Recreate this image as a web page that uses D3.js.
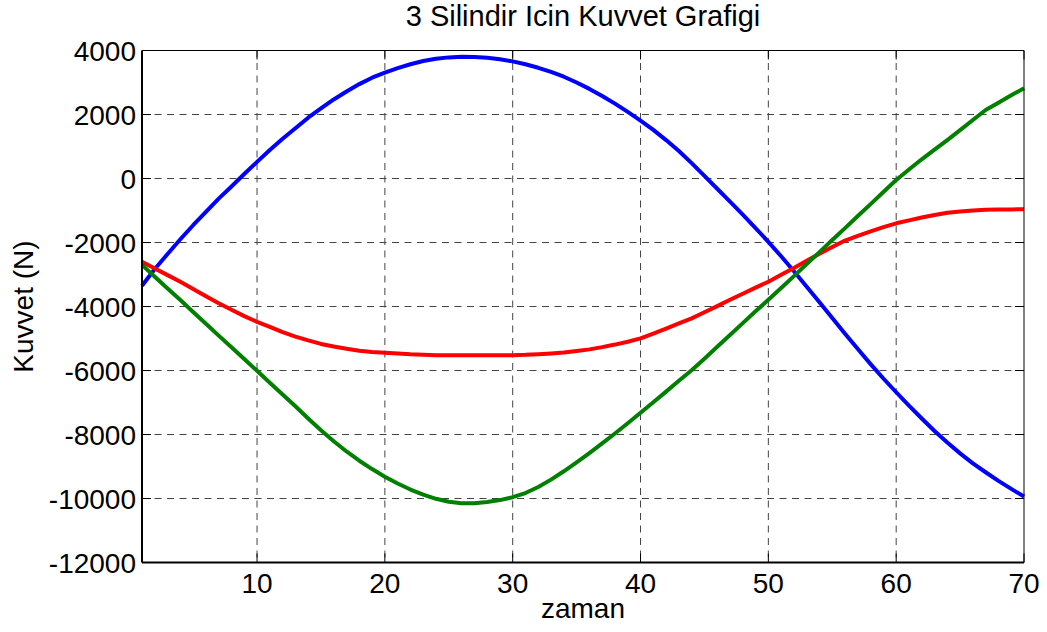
<!DOCTYPE html>
<html>
<head>
<meta charset="utf-8">
<script src="https://cdn.jsdelivr.net/npm/d3@7"></script>
<style>
  body { margin: 0; background: #fff; }
  svg { display: block; font-family: "Liberation Sans", Arial, sans-serif; }
</style>
</head>
<body>
<div id="chart"></div>
<script>
// zaman: 1..70
const zaman = d3.range(1, 71);

// Kuvvet values (N)
const silindir1 = [
  -3350, -2830, -2360, -1900, -1460, -1040, -630, -250, 140, 520,
  890, 1240, 1570, 1900, 2190, 2470, 2720, 2950, 3150, 3310,
  3450, 3570, 3670, 3740, 3785, 3805, 3800, 3775, 3725, 3660,
  3570, 3460, 3330, 3180, 3000, 2800, 2580, 2340, 2080, 1810,
  1520, 1200, 860, 480, 80, -320, -720, -1130, -1550, -1980,
  -2430, -2900, -3380, -3870, -4360, -4850, -5330, -5800, -6250, -6680,
  -7100, -7500, -7890, -8250, -8590, -8900, -9180, -9450, -9700, -9940
];

const silindir2 = [
  -2600, -2810, -3020, -3225, -3450, -3680, -3900, -4100, -4300, -4480,
  -4640, -4800, -4940, -5060, -5170, -5250, -5320, -5380, -5420, -5445,
  -5470, -5495, -5510, -5520, -5525, -5525, -5525, -5525, -5525, -5520,
  -5510, -5490, -5465, -5440, -5390, -5340, -5270, -5190, -5100, -4995,
  -4850, -4690, -4530, -4370, -4180, -3990, -3790, -3600, -3410, -3225,
  -3010, -2800, -2570, -2350, -2140, -1940, -1790, -1650, -1520, -1400,
  -1310, -1220, -1140, -1070, -1030, -1000, -980, -970, -965, -963
];

const silindir3 = [
  -2700, -3070, -3440, -3800, -4170, -4540, -4910, -5270, -5640, -6010,
  -6380, -6750, -7120, -7500, -7870, -8210, -8530, -8820, -9080, -9320,
  -9530, -9720, -9880, -10010, -10100, -10150, -10150, -10110, -10050, -9960,
  -9830, -9640, -9410, -9150, -8870, -8580, -8280, -7970, -7650, -7320,
  -6990, -6660, -6320, -5990, -5630, -5260, -4890, -4520, -4150, -3790,
  -3420, -3050, -2670, -2300, -1920, -1550, -1170, -800, -420, -47,
  280, 600, 900, 1200, 1510, 1830, 2140, 2370, 2600, 2820
];

const xTicks = [10, 20, 30, 40, 50, 60, 70];
const yTicks = [-12000, -10000, -8000, -6000, -4000, -2000, 0, 2000, 4000];

const series = [
  { values: silindir1, color: '#0000ff' },
  { values: silindir2, color: '#ff0000' },
  { values: silindir3, color: '#008000' }
];

const width = 1047;
const height = 632;
const margin = { left: 142, right: 23, top: 50.5, bottom: 69.5 };

const svg = d3.select('#chart')
  .append('svg')
  .attr('width', width)
  .attr('height', height);

const x = d3.scaleLinear()
  .domain([1, 70])
  .range([margin.left, width - margin.right]);

const y = d3.scaleLinear()
  .domain([-12000, 4000])
  .range([height - margin.bottom, margin.top]);

const x0 = x.range()[0], x1 = x.range()[1];
const y0 = y.range()[0], y1 = y.range()[1];

// Grid
const grid = svg.append('g')
  .attr('stroke', '#444')
  .attr('stroke-width', 1)
  .attr('stroke-dasharray', '7,5.5');

grid.selectAll('line.v')
  .data(xTicks.filter(d => d < 70))
  .join('line')
  .attr('class', 'v')
  .attr('x1', d => x(d)).attr('x2', d => x(d))
  .attr('y1', y1).attr('y2', y0);

grid.selectAll('line.h')
  .data(yTicks.filter(d => d > -12000 && d < 4000))
  .join('line')
  .attr('class', 'h')
  .attr('x1', x0).attr('x2', x1)
  .attr('y1', d => y(d)).attr('y2', d => y(d));

// Lines
const line = d3.line()
  .x((d, i) => x(zaman[i]))
  .y(d => y(d));

svg.append('g')
  .selectAll('path')
  .data(series)
  .join('path')
  .attr('fill', 'none')
  .attr('stroke', d => d.color)
  .attr('stroke-width', 4)
  .attr('stroke-linejoin', 'round')
  .attr('d', d => line(d.values));

// Axes (MATLAB style box, ticks inside)
const tickLen = 9;
const axisG = svg.append('g').attr('stroke', '#000');

axisG.append('line')
  .attr('x1', x0).attr('x2', x1).attr('y1', y1).attr('y2', y1)
  .attr('stroke-width', 1);
axisG.append('line')
  .attr('x1', x1).attr('x2', x1).attr('y1', y1).attr('y2', y0)
  .attr('stroke-width', 1);
axisG.append('line')
  .attr('x1', x0).attr('x2', x1).attr('y1', y0).attr('y2', y0)
  .attr('stroke-width', 2);
axisG.append('line')
  .attr('x1', x0).attr('x2', x0).attr('y1', y1).attr('y2', y0)
  .attr('stroke-width', 2);

xTicks.forEach(t => {
  axisG.append('line')
    .attr('x1', x(t)).attr('x2', x(t))
    .attr('y1', y0).attr('y2', y0 - tickLen);
  axisG.append('line')
    .attr('x1', x(t)).attr('x2', x(t))
    .attr('y1', y1).attr('y2', y1 + tickLen);
});
yTicks.forEach(t => {
  axisG.append('line')
    .attr('x1', x0).attr('x2', x0 + tickLen)
    .attr('y1', y(t)).attr('y2', y(t));
  axisG.append('line')
    .attr('x1', x1).attr('x2', x1 - tickLen)
    .attr('y1', y(t)).attr('y2', y(t));
});

// Tick labels
const fs = 28;

svg.append('g')
  .selectAll('text')
  .data(xTicks)
  .join('text')
  .attr('x', d => x(d))
  .attr('y', y0 + 30)
  .attr('text-anchor', 'middle')
  .attr('font-size', fs)
  .text(d => d);

svg.append('g')
  .selectAll('text')
  .data(yTicks)
  .join('text')
  .attr('x', x0 - 6)
  .attr('y', d => y(d))
  .attr('dy', '0.36em')
  .attr('text-anchor', 'end')
  .attr('font-size', fs)
  .text(d => d);

// Titles
svg.append('text')
  .attr('x', (x0 + x1) / 2)
  .attr('y', 26)
  .attr('text-anchor', 'middle')
  .attr('font-size', 29)
  .text('3 Silindir Icin Kuvvet Grafigi');

svg.append('text')
  .attr('x', (x0 + x1) / 2)
  .attr('y', 618)
  .attr('text-anchor', 'middle')
  .attr('font-size', fs)
  .text('zaman');

svg.append('text')
  .attr('transform', `translate(33,${(y0 + y1) / 2}) rotate(-90)`)
  .attr('text-anchor', 'middle')
  .attr('font-size', fs)
  .text('Kuvvet (N)');
</script>
</body>
</html>
